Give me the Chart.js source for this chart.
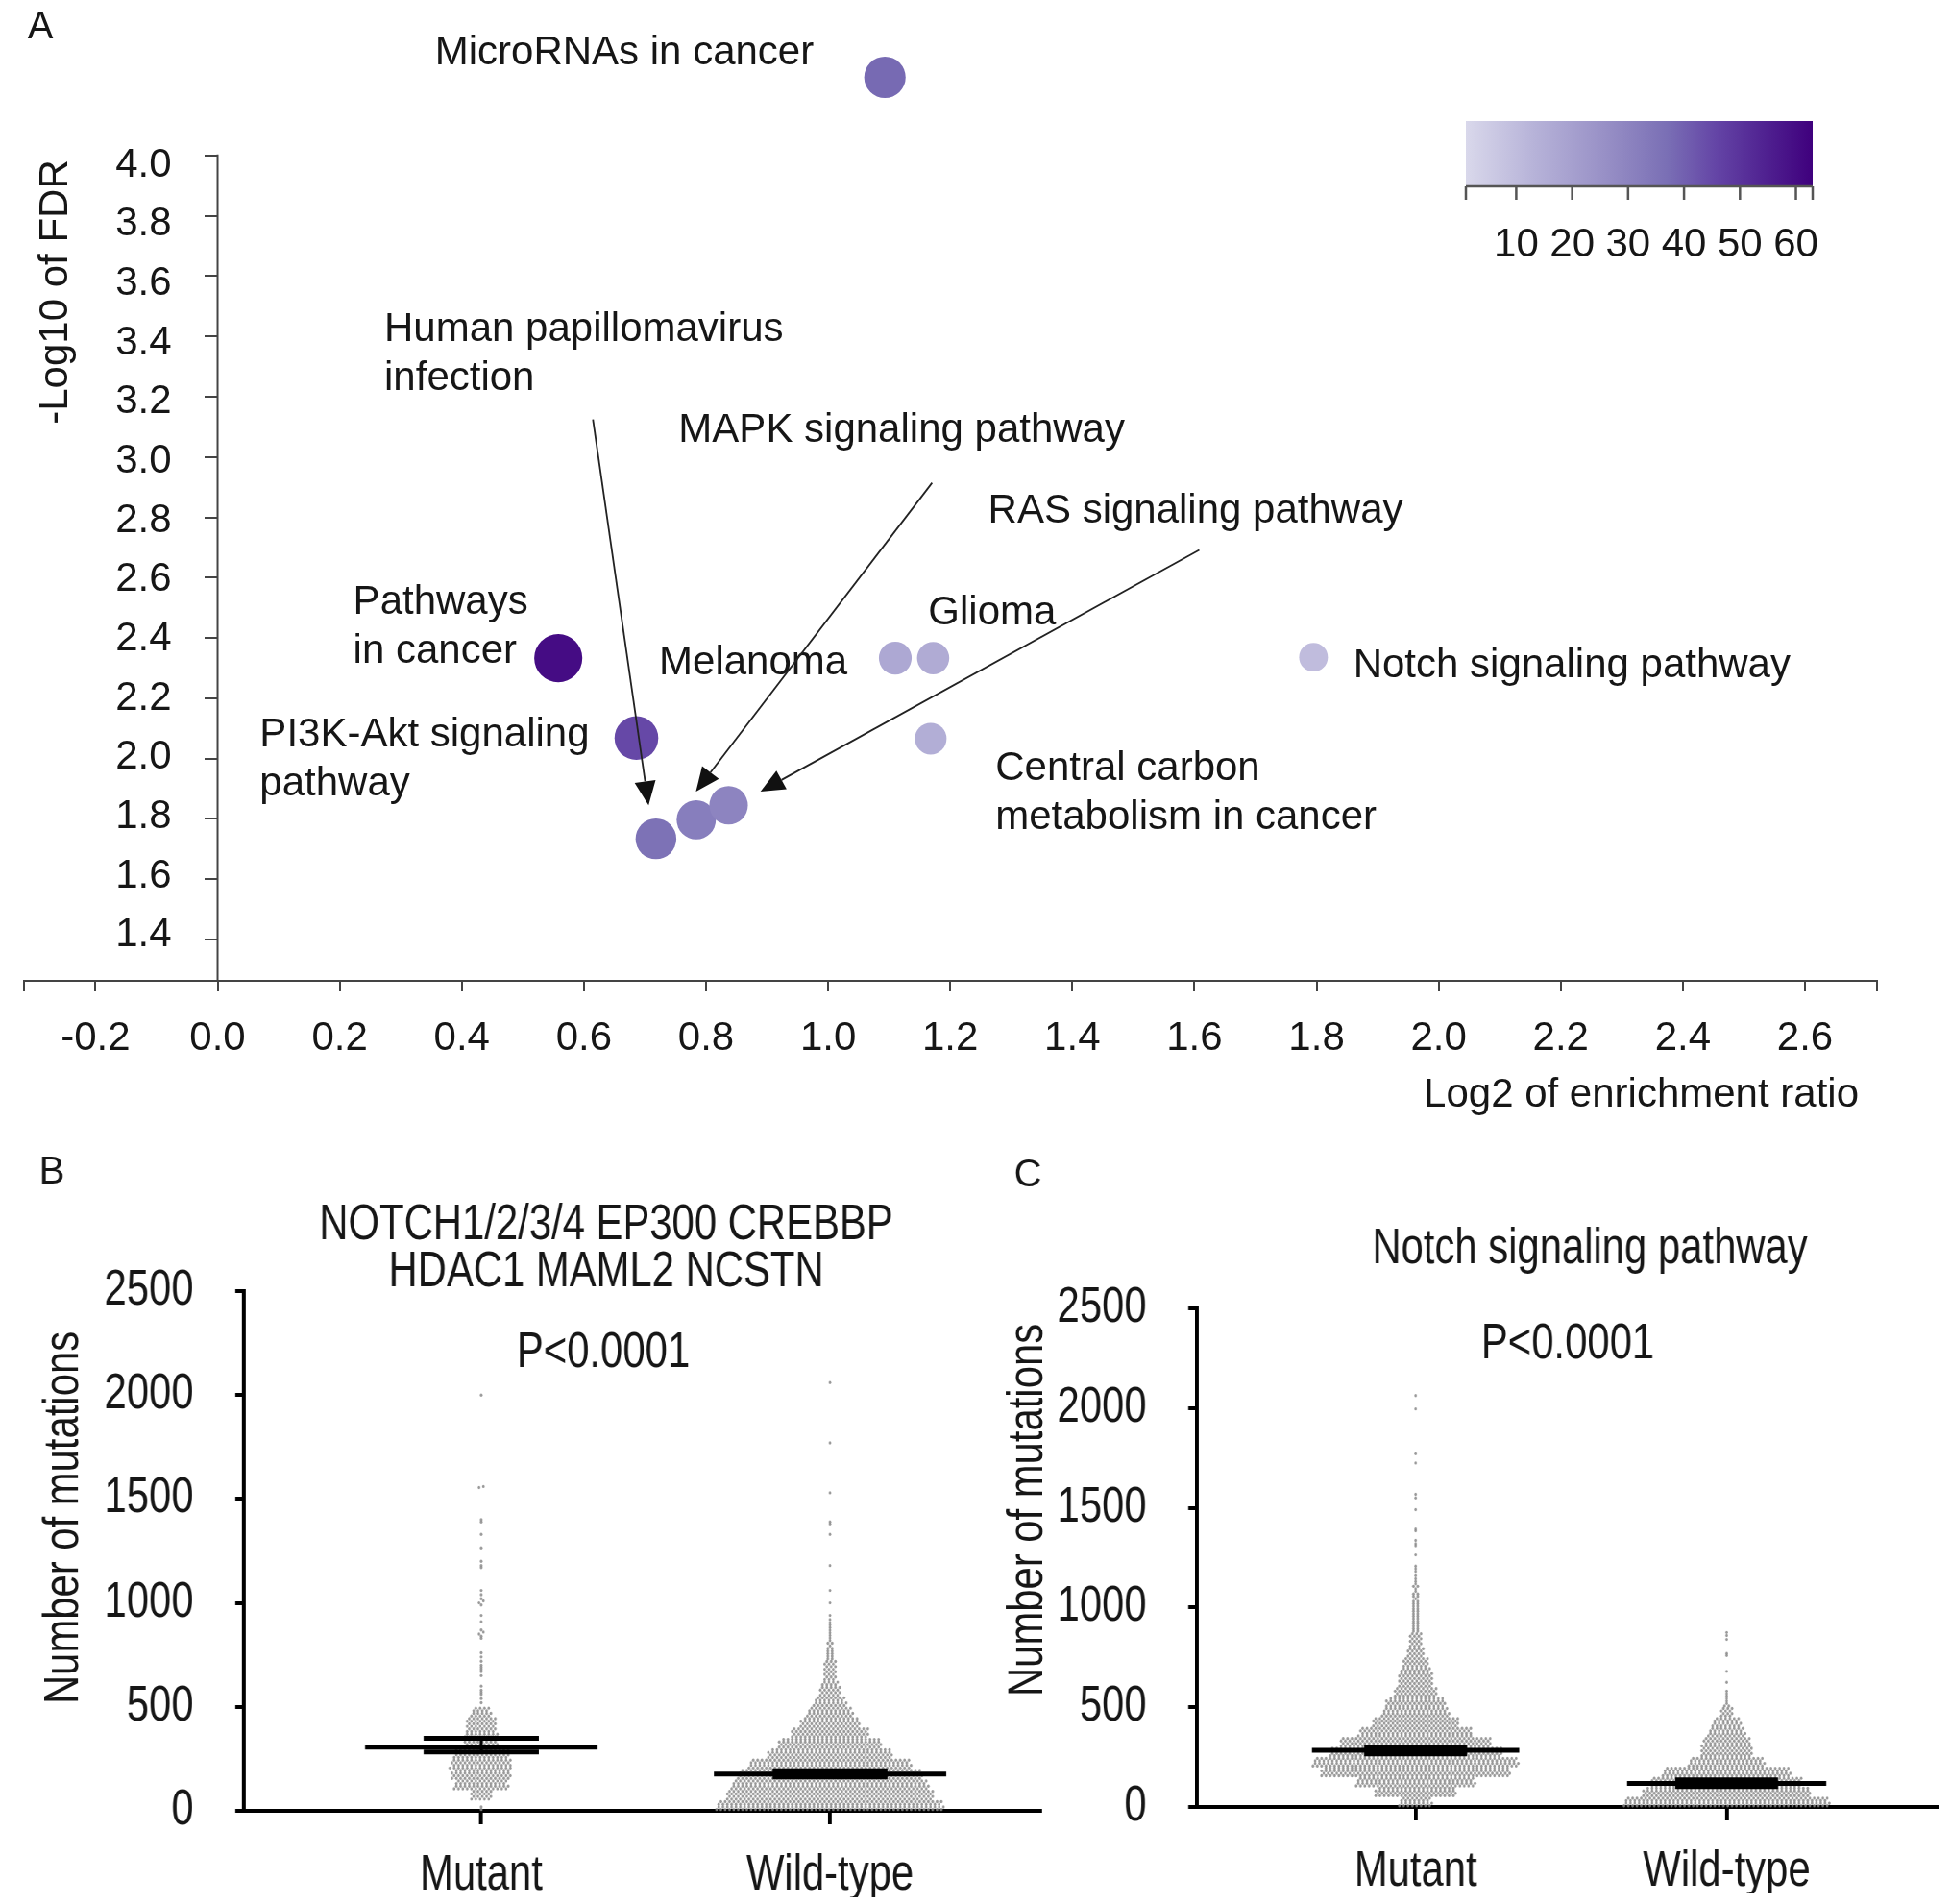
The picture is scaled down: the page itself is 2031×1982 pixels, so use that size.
<!DOCTYPE html>
<html lang="en">
<head>
<meta charset="UTF-8">
<title>KEGG enrichment and Notch mutation burden</title>
<script src="https://cdn.jsdelivr.net/npm/chart.js@4.4.1/dist/chart.umd.min.js"></script>
<style>
  html, body { margin: 0; padding: 0; background: #fff; overflow: hidden; }
  #wrap { position: relative; width: 2031px; height: 1982px; overflow: hidden; }
  #wrap canvas { position: absolute; left: 0; top: 0; }
  /* B and C use a condensed face: drawn wide, then narrowed */
  #chartB, #chartC { transform-origin: 0 0; }
</style>
</head>
<body>
<div id="wrap">
  <canvas id="chartA" width="2031" height="1982"></canvas>
  <canvas id="chartB" height="1982"></canvas>
  <canvas id="chartC" height="1982"></canvas>
</div>
<script>
// ---- Panel A: enriched KEGG pathways ----
const pathways = ['MicroRNAs in cancer', 'Pathways in cancer', 'PI3K-Akt signaling pathway',
  'Human papillomavirus infection', 'MAPK signaling pathway', 'RAS signaling pathway',
  'Melanoma', 'Glioma', 'Central carbon metabolism in cancer', 'Notch signaling pathway'];
const log2Ratio = [1.093, 0.558, 0.686, 0.718, 0.784, 0.837, 1.110, 1.172, 1.168, 1.795];
const log10FDR  = [4.259, 2.333, 2.068, 1.734, 1.797, 1.845, 2.333, 2.333, 2.066, 2.336];
const geneCount = [38, 60, 45, 36, 32, 30, 17, 16, 15, 10];
const xTicksA = [-0.2, 0, 0.2, 0.4, 0.6, 0.8, 1.0, 1.2, 1.4, 1.6, 1.8, 2.0, 2.2, 2.4, 2.6];
const yTicksA = [1.4, 1.6, 1.8, 2.0, 2.2, 2.4, 2.6, 2.8, 3.0, 3.2, 3.4, 3.6, 3.8, 4.0];
const colorTicks = [10, 20, 30, 40, 50, 60];

// ---- Panels B and C: mutation counts per sample ----
// dots per 50-mutation bin (0-50, 50-100, ...) read off the swarms, plus the sparse tails
const groups = ['Mutant', 'Wild-type'];
const yTicksBC = [0, 500, 1000, 1500, 2000, 2500];
const bMutantBins = [2, 20, 50, 55, 57, 52, 32, 30, 28, 18];
const bMutantTail = [520, 540, 560, 570, 580, 600, 650, 670, 680, 690, 700, 720, 740, 760, 830, 840,
  850, 860, 870, 910, 940, 990, 1000, 1010, 1020, 1040, 1060, 1170, 1180, 1200, 1265, 1330, 1390,
  1400, 1555, 1560, 2000];
const bWildBins = [210, 192, 182, 170, 150, 115, 95, 72, 55, 42, 30, 20, 14, 12, 10, 7, 5, 4];
const bWildTail = [905, 920, 940, 1000, 1060, 1180, 1330, 1380, 1390, 1530, 1770, 2060];
const bMean = [306, 177];
const bCiLow = [283, 163];
const bCiHigh = [349, 193];

const cMutantBins = [30, 75, 110, 175, 190, 160, 140, 105, 80, 62, 55, 40, 32, 30, 24, 16, 12, 10, 8, 8, 7, 6, 5];
const cMutantTail = [1160, 1181, 1195, 1208, 1264, 1310, 1320, 1337, 1385, 1393, 1491, 1550, 1568,
  1725, 1771, 1996, 2063];
const cWildBins = [190, 155, 140, 118, 70, 48, 45, 34, 26, 12, 5, 3];
const cWildTail = [625, 680, 760, 770, 840, 860, 875];
const cMean = [284, 118];
const cCiLow = [266, 102];
const cCiHigh = [300, 136];

const SANS = '"Liberation Sans", Arial, sans-serif';
const INK = '#161616';
const K = 0.82;                 // horizontal squeeze for panels B and C
const CW = Math.ceil(2031 / K);  // their canvas width before the squeeze

Chart.defaults.font.family = SANS;
Chart.defaults.animation = false;

// ---- colour scale for gene counts ----
const cbMin = 1, cbMax = 63;
const cbStops = [[0, [217, 216, 235]], [0.2, [182, 178, 216]], [0.4, [152, 144, 198]],
  [0.58, [122, 111, 181]], [0.72, [100, 69, 166]], [0.86, [80, 34, 145]], [1, [63, 0, 125]]];
function purple(count) {
  const t = Math.min(1, Math.max(0, (count - cbMin) / (cbMax - cbMin)));
  for (let i = 1; i < cbStops.length; i++) {
    const [t1, c1] = cbStops[i];
    const [t0, c0] = cbStops[i - 1];
    if (t <= t1) {
      const f = (t - t0) / (t1 - t0);
      const c = c0.map((v, k) => Math.round(v + (c1[k] - v) * f));
      return 'rgb(' + c.join(',') + ')';
    }
  }
  return 'rgb(63,0,125)';
}
const radiusFor = count => 8 + 2.2 * Math.sqrt(count);

// label and arrow placement, in data units
const labelsA = [
  { lines: ['MicroRNAs in cancer'], x: 0.356, y: 4.338 },
  { lines: ['Human papillomavirus', 'infection'], x: 0.273, y: 3.422 },
  { lines: ['MAPK signaling pathway'], x: 0.755, y: 3.088 },
  { lines: ['RAS signaling pathway'], x: 1.262, y: 2.819 },
  { lines: ['Pathways', 'in cancer'], x: 0.222, y: 2.518 },
  { lines: ['Glioma'], x: 1.164, y: 2.481 },
  { lines: ['Melanoma'], x: 0.723, y: 2.316 },
  { lines: ['Notch signaling pathway'], x: 1.860, y: 2.308 },
  { lines: ['PI3K-Akt signaling', 'pathway'], x: 0.069, y: 2.077 },
  { lines: ['Central carbon', 'metabolism in cancer'], x: 1.274, y: 1.966 }
];
const arrowsA = [
  { from: [0.6148, 3.1248], to: [0.7059, 1.8452] },
  { from: [1.1703, 2.9143], to: [0.7835, 1.8908] },
  { from: [1.6079, 2.6917], to: [0.8892, 1.8908] }
];

const panelAPlugin = {
  id: 'panelA',
  afterDraw(chart) {
    const ctx = chart.ctx;
    const sx = chart.scales.x, sy = chart.scales.y;
    const area = chart.chartArea;
    ctx.save();
    // y axis line from the top tick down to the x axis
    const x0 = sx.getPixelForValue(0);
    ctx.strokeStyle = '#444';
    ctx.lineWidth = 2;
    ctx.beginPath();
    ctx.moveTo(x0, sy.getPixelForValue(yTicksA[yTicksA.length - 1]) - 1);
    ctx.lineTo(x0, area.bottom);
    ctx.stroke();

    ctx.fillStyle = INK;
    ctx.font = '42px ' + SANS;
    ctx.textBaseline = 'middle';
    // y tick labels, left of the axis that crosses at x = 0 (set slightly tighter than the ticks)
    ctx.textAlign = 'right';
    const mid = sy.getPixelForValue(2.7);
    sy.ticks.forEach(t => {
      const py = sy.getPixelForValue(t.value);
      ctx.fillText(t.value.toFixed(1), x0 - 48, mid + 3 + (py - mid) * 0.982);
    });

    // point labels
    ctx.textAlign = 'left';
    labelsA.forEach(l => {
      const px = sx.getPixelForValue(l.x), py = sy.getPixelForValue(l.y);
      l.lines.forEach((t, i) => ctx.fillText(t, px, py + i * 51));
    });

    // arrows
    ctx.strokeStyle = '#222';
    ctx.fillStyle = '#111';
    ctx.lineWidth = 1.8;
    arrowsA.forEach(a => {
      const x1 = sx.getPixelForValue(a.from[0]), y1 = sy.getPixelForValue(a.from[1]);
      const x2 = sx.getPixelForValue(a.to[0]), y2 = sy.getPixelForValue(a.to[1]);
      const ang = Math.atan2(y2 - y1, x2 - x1);
      const len = 25, half = 11;
      const bx = x2 - len * Math.cos(ang), by = y2 - len * Math.sin(ang);
      ctx.beginPath();
      ctx.moveTo(x1, y1);
      ctx.lineTo(bx, by);
      ctx.stroke();
      ctx.beginPath();
      ctx.moveTo(x2, y2);
      ctx.lineTo(bx + half * Math.sin(ang), by - half * Math.cos(ang));
      ctx.lineTo(bx - half * Math.sin(ang), by + half * Math.cos(ang));
      ctx.closePath();
      ctx.fill();
    });

    // colour bar
    const cb = { left: 1526, right: 1887, top: 126, bottom: 194 };
    const grad = ctx.createLinearGradient(cb.left, 0, cb.right, 0);
    cbStops.forEach(([t, c]) => grad.addColorStop(t, 'rgb(' + c.join(',') + ')'));
    ctx.fillStyle = grad;
    ctx.fillRect(cb.left, cb.top, cb.right - cb.left, cb.bottom - cb.top);
    const cbX = v => cb.left + (v - cbMin) / (cbMax - cbMin) * (cb.right - cb.left);
    ctx.strokeStyle = '#555';
    ctx.lineWidth = 2.5;
    ctx.beginPath();
    ctx.moveTo(cb.left, cb.bottom);
    ctx.lineTo(cb.right, cb.bottom);
    [cbMin].concat(colorTicks, [cbMax]).forEach(v => {
      ctx.moveTo(cbX(v), cb.bottom);
      ctx.lineTo(cbX(v), cb.bottom + 14);
    });
    ctx.stroke();
    ctx.fillStyle = INK;
    ctx.textAlign = 'center';
    colorTicks.forEach(v => ctx.fillText(String(v), cbX(v), 255));

    // axis titles and panel letter
    ctx.textAlign = 'right';
    ctx.fillText('Log2 of enrichment ratio', area.right - 19, area.bottom + 119);
    ctx.save();
    ctx.translate(58, 304);
    ctx.rotate(-Math.PI / 2);
    ctx.textAlign = 'center';
    ctx.fillText('-Log10 of FDR', 0, 0);
    ctx.restore();
    ctx.font = '40px ' + SANS;
    ctx.textAlign = 'center';
    ctx.fillText('A', 42, 29);
    ctx.restore();
  }
};

new Chart(document.getElementById('chartA'), {
  type: 'scatter',
  data: {
    datasets: [{
      data: pathways.map((p, i) => ({ x: log2Ratio[i], y: log10FDR[i], name: p })),
      backgroundColor: geneCount.map(purple),
      pointRadius: geneCount.map(radiusFor),
      pointHoverRadius: geneCount.map(radiusFor),
      borderWidth: 0
    }]
  },
  options: {
    responsive: false,
    events: [],
    layout: { padding: { left: 22, right: 77, top: 40, bottom: 861 } },
    plugins: { legend: { display: false }, tooltip: { enabled: false } },
    scales: {
      x: {
        type: 'linear', min: -0.317, max: 2.718,
        afterBuildTicks: s => { s.ticks = [s.min].concat(xTicksA, [s.max]).map(v => ({ value: v })); },
        afterFit: s => { s.height = 100; s.paddingLeft = 0; s.paddingRight = 0; },
        grid: { drawOnChartArea: false, color: '#444', lineWidth: 2, tickLength: 11 },
        border: { color: '#444', width: 2 },
        ticks: {
          autoSkip: false, maxRotation: 0, padding: 24, color: INK, font: { size: 42 },
          callback: v => xTicksA.some(t => Math.abs(t - v) < 1e-9) ? v.toFixed(1) : ''
        }
      },
      y: {
        type: 'linear', position: { x: 0 }, min: 1.263, max: 4.388,
        afterBuildTicks: s => { s.ticks = yTicksA.map(v => ({ value: v })); },
        afterFit: s => { s.paddingTop = 0; s.paddingBottom = 0; },
        grid: { drawOnChartArea: false, color: '#444', lineWidth: 2, tickLength: 14 },
        border: { display: false },
        ticks: { display: false }
      }
    }
  },
  plugins: [panelAPlugin]
});

// ---- dot plots ----
const ROWS_PER_BIN = 4, BIN = 50, ROW_STEP = BIN / ROWS_PER_BIN;
function swarm(bins, tail, group, dx) {
  const rows = new Map();
  const add = (v, r) => { if (!rows.has(r)) rows.set(r, []); rows.get(r).push(v); };
  bins.forEach((n, b) => {
    for (let k = 0; k < n; k++) {
      const r = b * ROWS_PER_BIN + (k % ROWS_PER_BIN);
      add((r + 0.5) * ROW_STEP, r);
    }
  });
  tail.forEach(v => add(v, Math.floor(v / ROW_STEP)));
  const pts = [];
  rows.forEach((vals, r) => {
    const shift = vals.length > 2 ? (r % 2 ? 0.25 : -0.25) : 0;
    vals.forEach((v, i) => pts.push({ x: group + (i - (vals.length - 1) / 2 + shift) * dx, y: v }));
  });
  return pts;
}
function seg(x, half, y) { return [{ x: x - half, y }, { x: x + half, y }]; }

// text is placed in page pixels; the canvas is squeezed by K afterwards
const panelTextPlugin = {
  id: 'panelText',
  afterDraw(chart, args, opts) {
    const ctx = chart.ctx;
    ctx.save();
    ctx.fillStyle = INK;
    ctx.textBaseline = 'middle';
    ctx.textAlign = 'center';
    (opts.items || []).forEach(it => {
      ctx.font = it.font;
      ctx.save();
      ctx.translate(it.x / K, it.y);
      if (it.plain || it.rotate) ctx.scale(1 / K, 1);
      if (it.rotate) {
        ctx.rotate(-Math.PI / 2);
        ctx.scale(K, 1);
      }
      ctx.fillText(it.text, 0, 0);
      ctx.restore();
    });
    ctx.restore();
  }
};

function dotPlot(id, cfg) {
  const canvas = document.getElementById(id);
  canvas.width = CW;
  canvas.style.transform = 'scaleX(' + K + ')';
  const area = { left: cfg.area.left / K, right: cfg.area.right / K, top: cfg.area.top, bottom: cfg.area.bottom };
  const pxPerUnit = (cfg.area.right - cfg.area.left) / (cfg.xMax - cfg.xMin);
  const dx = 4.5 / pxPerUnit;
  const dots = swarm(cfg.mutBins, cfg.mutTail, 1, dx).concat(swarm(cfg.wildBins, cfg.wildTail, 2, dx));
  // lower order is painted later, so the mean and CI lines sit on top of the dots
  const lineDs = data => ({ data, order: 0, showLine: true, borderColor: '#000', borderWidth: 5,
    borderCapStyle: 'butt', pointRadius: 0, pointHoverRadius: 0, clip: false });
  const datasets = [{ data: dots, order: 1, backgroundColor: 'rgba(135,135,135,0.85)', pointRadius: 1.7,
    pointHoverRadius: 1.7, borderWidth: 0, clip: false }];
  [1, 2].forEach((g, i) => {
    datasets.push(lineDs(seg(g, cfg.half[i], cfg.mean[i])));
    datasets.push(lineDs(seg(g, 0.165, cfg.ciLow[i])));
    datasets.push(lineDs(seg(g, 0.165, cfg.ciHigh[i])));
    const v = lineDs([{ x: g, y: cfg.ciLow[i] }, { x: g, y: cfg.ciHigh[i] }]);
    v.borderWidth = 3.5;
    datasets.push(v);
  });
  const size = 51;
  const f = size + 'px ' + SANS;
  const yW = 244;
  new Chart(canvas, {
    type: 'scatter',
    data: { datasets },
    options: {
      responsive: false,
      events: [],
      layout: { padding: { left: area.left - yW, right: CW - area.right,
        top: area.top, bottom: 1982 - area.bottom - 90 } },
      plugins: { legend: { display: false }, tooltip: { enabled: false }, panelText: { items: cfg.texts(f) } },
      scales: {
        x: {
          type: 'linear', min: cfg.xMin, max: cfg.xMax,
          afterBuildTicks: s => { s.ticks = [{ value: 1 }, { value: 2 }]; },
          afterFit: s => { s.height = 90; s.paddingLeft = 0; s.paddingRight = 0; },
          grid: { drawOnChartArea: false, color: '#000', lineWidth: 4.8, tickLength: 14 },
          border: { color: '#000', width: 4 },
          ticks: { autoSkip: false, maxRotation: 0, padding: 23, color: INK,
            font: { size }, callback: v => groups[Math.round(v) - 1] }
        },
        y: {
          type: 'linear', min: 0, max: 2500,
          afterBuildTicks: s => { s.ticks = yTicksBC.map(v => ({ value: v })); },
          afterFit: s => { s.width = yW; s.paddingTop = 0; s.paddingBottom = 0; },
          grid: { drawOnChartArea: false, color: '#000', lineWidth: 4, tickLength: 11 },
          border: { color: '#000', width: 4.9 },
          ticks: { padding: 53, color: INK, font: { size }, callback: v => String(v) }
        }
      }
    },
    plugins: [panelTextPlugin]
  });
}

dotPlot('chartB', {
  area: { left: 254, right: 1083, top: 1344, bottom: 1885 },
  xMin: 0.32, xMax: 2.603, half: [0.333, 0.333],
  mutBins: bMutantBins, mutTail: bMutantTail, wildBins: bWildBins, wildTail: bWildTail,
  mean: bMean, ciLow: bCiLow, ciHigh: bCiHigh,
  texts: f => [
    { text: 'B', x: 54, y: 1221, font: '40px ' + SANS, plain: true },
    { text: 'NOTCH1/2/3/4 EP300 CREBBP', x: 631, y: 1276, font: f },
    { text: 'HDAC1 MAML2 NCSTN', x: 631, y: 1325, font: f },
    { text: 'P<0.0001', x: 628, y: 1409, font: f },
    { text: 'Number of mutations', x: 67, y: 1580, font: f, rotate: true }
  ]
});

dotPlot('chartC', {
  area: { left: 1246, right: 2017, top: 1362, bottom: 1881 },
  xMin: 0.297, xMax: 2.678, half: [0.333, 0.32],
  mutBins: cMutantBins, mutTail: cMutantTail, wildBins: cWildBins, wildTail: cWildTail,
  mean: cMean, ciLow: cCiLow, ciHigh: cCiHigh,
  texts: f => [
    { text: 'C', x: 1070, y: 1224, font: '40px ' + SANS, plain: true },
    { text: 'Notch signaling pathway', x: 1655, y: 1301, font: f },
    { text: 'P<0.0001', x: 1632, y: 1400, font: f },
    { text: 'Number of mutations', x: 1071, y: 1572, font: f, rotate: true }
  ]
});
</script>
</body>
</html>
